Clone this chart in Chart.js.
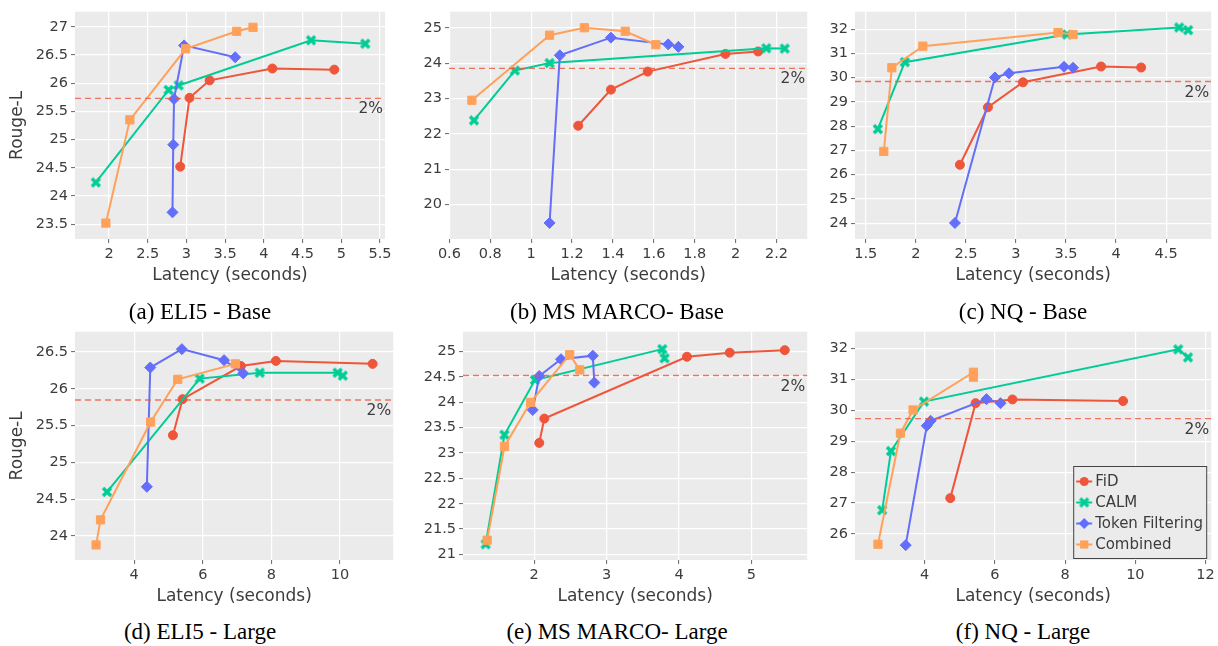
<!DOCTYPE html>
<html>
<head>
<meta charset="utf-8">
<script src="https://cdn.jsdelivr.net/npm/chart.js@4.4.1/dist/chart.umd.min.js"></script>
<style>
  body { margin: 0; background: #fff; width: 1218px; height: 646px; position: relative; overflow: hidden; }
  .panel { position: absolute; }
  .cap { position: absolute; width: 320px; text-align: center; font-family: 'Liberation Serif', 'Times New Roman', serif;
         font-size: 23px; line-height: 28px; color: #000; white-space: nowrap; }
</style>
</head>
<body>
<canvas id="pa" class="panel"></canvas>
<canvas id="pb" class="panel"></canvas>
<canvas id="pc" class="panel"></canvas>
<canvas id="pd" class="panel"></canvas>
<canvas id="pe" class="panel"></canvas>
<canvas id="pf" class="panel"></canvas>
<div class="cap" style="left:40px;top:298px">(a) ELI5 - Base</div>
<div class="cap" style="left:457px;top:298px">(b) MS MARCO- Base</div>
<div class="cap" style="left:863px;top:298px">(c) NQ - Base</div>
<div class="cap" style="left:40px;top:618px">(d) ELI5 - Large</div>
<div class="cap" style="left:457px;top:618px">(e) MS MARCO- Large</div>
<div class="cap" style="left:863px;top:618px">(f) NQ - Large</div>
<script>
// methods, in plot order
const methods = ['FiD', 'CALM', 'Token Filtering', 'Combined'];
const colors = ['#EF553B', '#00CC96', '#636EFA', '#FFA15A'];

// (a) ELI5 - Base : [latency, rouge-L]
const eli5BaseFid   = [[2.92, 24.52], [3.04, 25.74], [3.30, 26.05], [4.11, 26.26], [4.91, 26.24]];
const eli5BaseCalm  = [[1.83, 24.24], [2.77, 25.88], [2.90, 25.96], [4.61, 26.76], [5.31, 26.70]];
const eli5BaseTf    = [[2.82, 23.71], [2.83, 24.91], [2.84, 25.72], [2.97, 26.67], [3.63, 26.46]];
const eli5BaseComb  = [[1.96, 23.52], [2.27, 25.35], [2.99, 26.61], [3.65, 26.92], [3.86, 26.99]];

// (b) MS MARCO - Base
const marcoBaseFid  = [[1.23, 22.23], [1.39, 23.25], [1.57, 23.76], [1.95, 24.26], [2.11, 24.33]];
const marcoBaseCalm = [[0.72, 22.38], [0.92, 23.79], [1.09, 24.00], [2.15, 24.42], [2.24, 24.41]];
const marcoBaseTf   = [[1.09, 19.48], [1.14, 24.22], [1.39, 24.72], [1.67, 24.53], [1.72, 24.46]];
const marcoBaseComb = [[0.71, 22.95], [1.09, 24.79], [1.26, 25.00], [1.46, 24.90], [1.61, 24.52]];

// (c) NQ - Base
const nqBaseFid     = [[2.44, 26.41], [2.72, 28.78], [3.07, 29.81], [3.85, 30.46], [4.25, 30.42]];
const nqBaseCalm    = [[1.62, 27.88], [1.89, 30.64], [3.51, 31.78], [4.63, 32.07], [4.72, 31.96]];
const nqBaseTf      = [[2.39, 24.01], [2.79, 30.01], [2.93, 30.18], [3.48, 30.45], [3.57, 30.41]];
const nqBaseComb    = [[1.68, 26.96], [1.76, 30.41], [2.07, 31.30], [3.42, 31.86], [3.57, 31.78]];

// (d) ELI5 - Large
const eli5LargeFid  = [[5.13, 25.37], [5.41, 25.86], [7.11, 26.31], [8.13, 26.38], [10.95, 26.34]];
const eli5LargeCalm = [[3.21, 24.60], [5.91, 26.14], [7.66, 26.22], [9.93, 26.22], [10.08, 26.18]];
const eli5LargeTf   = [[4.37, 24.67], [4.47, 26.29], [5.39, 26.54], [6.62, 26.39], [7.18, 26.21]];
const eli5LargeComb = [[2.89, 23.88], [3.02, 24.22], [4.48, 25.55], [5.27, 26.13], [6.95, 26.34]];

// (e) MS MARCO - Large
const marcoLargeFid  = [[2.07, 23.20], [2.14, 23.68], [4.11, 24.90], [4.70, 24.98], [5.46, 25.03]];
const marcoLargeCalm = [[1.33, 21.20], [1.59, 23.36], [2.01, 24.44], [3.77, 25.05], [3.80, 24.87]];
const marcoLargeTf   = [[1.98, 23.85], [2.07, 24.52], [2.37, 24.85], [2.81, 24.92], [2.83, 24.39]];
const marcoLargeComb = [[1.35, 21.28], [1.59, 23.13], [1.95, 24.00], [2.49, 24.94], [2.63, 24.64]];

// (f) NQ - Large
const nqLargeFid    = [[4.73, 27.16], [5.45, 30.23], [6.50, 30.35], [9.65, 30.30]];
const nqLargeCalm   = [[2.79, 26.77], [3.04, 28.68], [3.98, 30.28], [11.22, 31.97], [11.50, 31.71]];
const nqLargeTf     = [[3.46, 25.64], [4.06, 29.50], [4.17, 29.66], [5.76, 30.36], [6.16, 30.23]];
const nqLargeComb   = [[2.67, 25.67], [3.31, 29.26], [3.67, 30.01], [5.39, 31.23], [5.39, 31.07]];

// 2% drop reference lines
const thresholds = [25.73, 23.85, 29.84, 25.85, 24.53, 29.73];

// tick labels
const xTicksA = [2, 2.5, 3, 3.5, 4, 4.5, 5, 5.5];
const yTicksA = [23.5, 24, 24.5, 25, 25.5, 26, 26.5, 27];
const xTicksB = [0.6, 0.8, 1, 1.2, 1.4, 1.6, 1.8, 2, 2.2];
const yTicksB = [20, 21, 22, 23, 24, 25];
const xTicksC = [1.5, 2, 2.5, 3, 3.5, 4, 4.5];
const yTicksC = [24, 25, 26, 27, 28, 29, 30, 31, 32];
const xTicksD = [4, 6, 8, 10];
const yTicksD = [24, 24.5, 25, 25.5, 26, 26.5];
const xTicksE = [2, 3, 4, 5];
const yTicksE = [21, 21.5, 22, 22.5, 23, 23.5, 24, 24.5, 25];
const xTicksF = [4, 6, 8, 10, 12];
const yTicksF = [26, 27, 28, 29, 30, 31, 32];

const TEXT = '#3c3c3c';
const FONT = "'DejaVu Sans', sans-serif";

// thick "x" marker like plotly's
function xMarker(color) {
  const c = document.createElement('canvas');
  c.width = 12; c.height = 12;
  const g = c.getContext('2d');
  g.strokeStyle = color;
  g.lineWidth = 3.4;
  g.beginPath();
  g.moveTo(2, 2); g.lineTo(10, 10);
  g.moveTo(10, 2); g.lineTo(2, 10);
  g.stroke();
  return c;
}
const pointStyles = ['circle', xMarker(colors[1]), 'rectRot', 'rect'];
const pointRadius = [4.5, 6, 5.5, 5.8];

const bgPlugin = {
  id: 'bg',
  beforeDraw(chart) {
    const a = chart.chartArea, ctx = chart.ctx;
    ctx.save();
    ctx.fillStyle = '#EBEBEB';
    ctx.fillRect(a.left, a.top, a.right - a.left, a.bottom - a.top);
    ctx.restore();
  }
};

const refPlugin = {
  id: 'ref',
  afterDatasetsDraw(chart, args, opts) {
    const a = chart.chartArea, ctx = chart.ctx;
    const y = chart.scales.y.getPixelForValue(opts.value);
    ctx.save();
    ctx.strokeStyle = 'rgba(239,85,59,0.8)';
    ctx.lineWidth = 1.4;
    ctx.setLineDash([6, 4]);
    ctx.beginPath();
    ctx.moveTo(a.left, y); ctx.lineTo(a.right, y);
    ctx.stroke();
    ctx.setLineDash([]);
    ctx.fillStyle = TEXT;
    ctx.font = '15.5px ' + FONT;
    ctx.textAlign = 'right';
    ctx.textBaseline = 'middle';
    ctx.fillText('2%', a.right - 2, y + 11);
    ctx.restore();
  }
};

function drawMarker(ctx, i, x, y) {
  ctx.fillStyle = colors[i];
  ctx.beginPath();
  if (i === 0) {
    ctx.arc(x, y, 4.5, 0, Math.PI * 2);
    ctx.fill();
  } else if (i === 1) {
    ctx.drawImage(pointStyles[1], x - 6, y - 6);
  } else if (i === 2) {
    ctx.moveTo(x - 5.5, y); ctx.lineTo(x, y - 5.5); ctx.lineTo(x + 5.5, y); ctx.lineTo(x, y + 5.5);
    ctx.closePath(); ctx.fill();
  } else {
    ctx.fillRect(x - 4.1, y - 4.1, 8.2, 8.2);
  }
}

const legendPlugin = {
  id: 'boxLegend',
  afterDraw(chart, args, opts) {
    if (!opts.show) return;
    const a = chart.chartArea, ctx = chart.ctx;
    const w = 133, h = 92;
    const x0 = a.right - 5 - w, y0 = a.bottom - 2 - h;
    ctx.save();
    ctx.fillStyle = '#EBEBEB';
    ctx.fillRect(x0, y0, w, h);
    ctx.strokeStyle = '#444';
    ctx.lineWidth = 1;
    ctx.strokeRect(x0 + 0.5, y0 + 0.5, w, h);
    ctx.font = '15px ' + FONT;
    ctx.textBaseline = 'middle';
    methods.forEach((m, i) => {
      const y = y0 + 15.5 + i * 21;
      ctx.strokeStyle = colors[i];
      ctx.lineWidth = 2;
      ctx.beginPath();
      ctx.moveTo(x0 + 3, y); ctx.lineTo(x0 + 19, y);
      ctx.stroke();
      drawMarker(ctx, i, x0 + 11, y);
      ctx.fillStyle = TEXT;
      ctx.fillText(m, x0 + 22, y + 1);
    });
    ctx.restore();
  }
};

function toPoints(arr) {
  return arr.map(p => ({ x: p[0], y: p[1] }));
}

function panel(id, box, series, xTicks, yTicks, xRange, yRange, ref, yTitle, legend) {
  const cv = document.getElementById(id);
  cv.width = box.w; cv.height = box.h;
  cv.style.left = box.l + 'px'; cv.style.top = box.t + 'px';
  const datasets = series.map((s, i) => ({
    label: methods[i],
    data: toPoints(s),
    showLine: true,
    borderColor: colors[i],
    backgroundColor: colors[i],
    borderWidth: 2,
    pointStyle: pointStyles[i],
    pointRadius: pointRadius[i],
    pointBackgroundColor: colors[i],
    pointBorderColor: colors[i],
    pointBorderWidth: i === 1 ? 0 : 1,
    order: 4 - i,
    clip: false
  }));
  const grid = { color: '#ffffff', lineWidth: 1.2, tickColor: '#666', tickLength: 4, tickWidth: 1 };
  return new Chart(cv, {
    type: 'scatter',
    data: { datasets },
    options: {
      responsive: false,
      animation: false,
      layout: { padding: { left: 0, top: 8, right: box.pr, bottom: 0 } },
      plugins: {
        legend: { display: false },
        tooltip: { enabled: false },
        ref: { value: ref },
        boxLegend: { show: legend }
      },
      scales: {
        x: {
          type: 'linear', min: xRange[0], max: xRange[1],
          grid: grid, border: { display: false },
          afterBuildTicks: s => { s.ticks = xTicks.map(v => ({ value: v })); },
          afterFit: s => { s.height = 50; },
          ticks: { color: TEXT, font: { family: FONT, size: 14.5 }, padding: 3, maxRotation: 0, callback: v => String(v) },
          title: { display: true, text: 'Latency (seconds)', color: TEXT, font: { family: FONT, size: 17 }, padding: { top: 0, bottom: 3 } }
        },
        y: {
          type: 'linear', min: yRange[0], max: yRange[1],
          grid: grid, border: { display: false },
          afterBuildTicks: s => { s.ticks = yTicks.map(v => ({ value: v })); },
          afterFit: s => { s.width = box.yw; },
          ticks: { color: TEXT, font: { family: FONT, size: 14.5 }, padding: 3, callback: v => String(v) },
          title: { display: yTitle, text: 'Rouge-L', color: TEXT, font: { family: FONT, size: 17 }, padding: { top: 7, bottom: 0 } }
        }
      }
    },
    plugins: [bgPlugin, refPlugin, legendPlugin]
  });
}

panel('pa', { l: 0, t: 0, w: 400, h: 289, yw: 75, pr: 15 },
  [eli5BaseFid, eli5BaseCalm, eli5BaseTf, eli5BaseComb], xTicksA, yTicksA,
  [1.561, 5.565], [23.238, 27.267], thresholds[0], true, false);
panel('pb', { l: 400, t: 0, w: 414, h: 289, yw: 49, pr: 3 },
  [marcoBaseFid, marcoBaseCalm, marcoBaseTf, marcoBaseComb], xTicksB, yTicksB,
  [0.598, 2.35], [19.026, 25.454], thresholds[1], false, false);
panel('pc', { l: 814, t: 0, w: 404, h: 289, yw: 41, pr: 1 },
  [nqBaseFid, nqBaseCalm, nqBaseTf, nqBaseComb], xTicksC, yTicksC,
  [1.392, 4.95], [23.35, 32.72], thresholds[2], false, false);
panel('pd', { l: 0, t: 320, w: 400, h: 290, yw: 75, pr: 6 },
  [eli5LargeFid, eli5LargeCalm, eli5LargeTf, eli5LargeComb], xTicksD, yTicksD,
  [2.276, 11.55], [23.675, 26.777], thresholds[3], true, false);
panel('pe', { l: 400, t: 320, w: 414, h: 290, yw: 63, pr: 3 },
  [marcoLargeFid, marcoLargeCalm, marcoLargeTf, marcoLargeComb], xTicksE, yTicksE,
  [1.017, 5.77], [20.89, 25.394], thresholds[4], false, false);
panel('pf', { l: 814, t: 320, w: 404, h: 290, yw: 41, pr: 5 },
  [nqLargeFid, nqLargeCalm, nqLargeTf, nqLargeComb], xTicksF, yTicksF,
  [2.016, 12.16], [25.16, 32.54], thresholds[5], false, true);
</script>
</body>
</html>
